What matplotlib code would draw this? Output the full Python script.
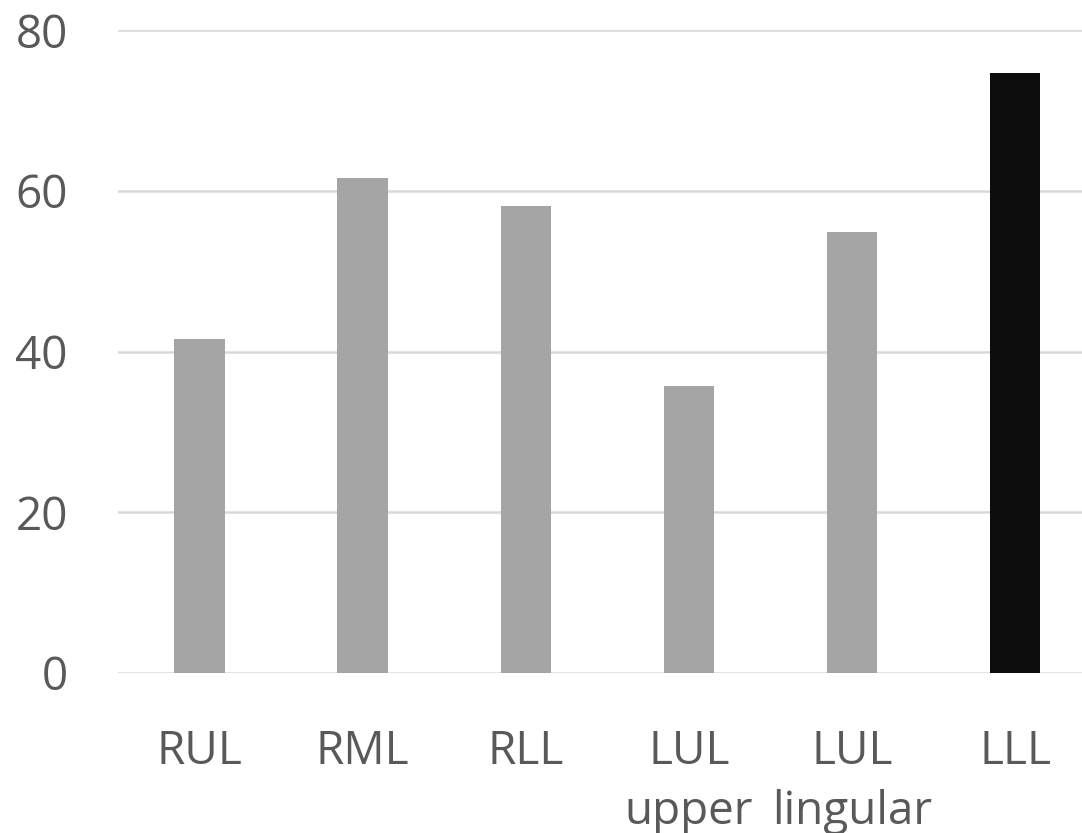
import matplotlib

matplotlib.use("Agg")
import matplotlib.pyplot as plt

# data
categories = ["RUL", "RML", "RLL", "LUL\nupper", "LUL\nlingular", "LLL"]
values = [41.5, 61.6, 58.1, 35.7, 54.9, 74.6]
colors = ["#a5a5a5"] * 5 + ["#0d0d0d"]
yticks = [0, 20, 40, 60, 80]

plt.rcParams.update({
    "font.family": ["Open Sans", "DejaVu Sans"],
    "font.size": 33,
})

W, H = 1082, 833
fig = plt.figure(figsize=(W / 100, H / 100), dpi=100)
# axes box in pixels: left 118, right 1082, top 30, bottom 673
ax = fig.add_axes([118 / W, (H - 673) / H, (1082 - 118) / W, (673 - 30) / H])

x = list(range(len(categories)))
ax.bar(x, values, width=0.31, color=colors, zorder=3)

ax.set_ylim(0, 80)
ax.set_xlim(-0.5, 5.41)
ax.set_yticks(yticks)
ax.set_xticks(x)
ax.set_xticklabels(categories, linespacing=1.4)
ax.grid(axis="y", color="#d9d9d9", lw=1.8, zorder=0)
ax.set_axisbelow(True)
for s in ax.spines.values():
    s.set_visible(False)
ax.tick_params(length=0, colors="#595959", labelsize=33)
ax.tick_params(axis="x", pad=40)
ax.tick_params(axis="y", pad=36)

fig.savefig("out.png", dpi=100)
